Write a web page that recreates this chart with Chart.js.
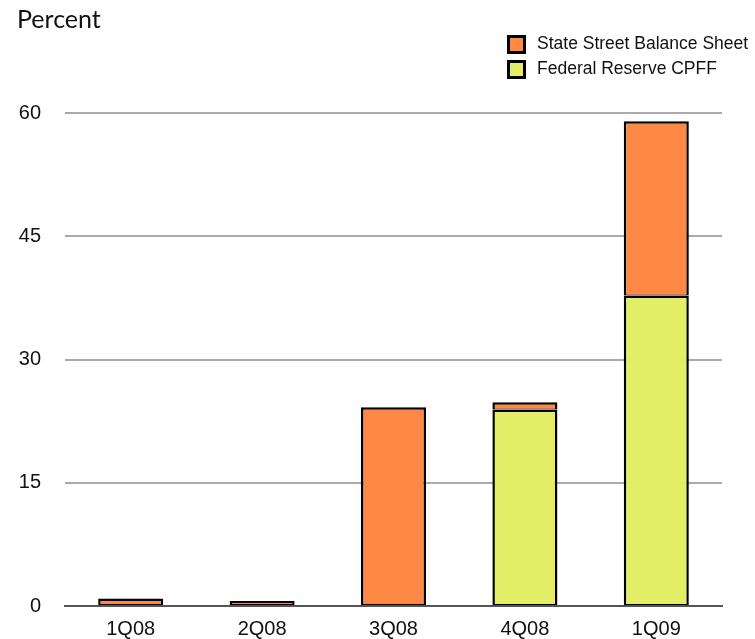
<!DOCTYPE html>
<html>
<head>
<meta charset="utf-8">
<title>State Street and CPFF</title>
<script src="https://cdn.jsdelivr.net/npm/chart.js@4"></script>
<style>
    html, body { margin: 0; padding: 0; background: #ffffff; }
    #wrap { width: 755px; height: 639px; position: relative; }
</style>
</head>
<body>
<div id="wrap"><canvas id="funding-chart" width="755" height="639"></canvas></div>
<script>
// Quarterly shares, percent
const quarters = ['1Q08', '2Q08', '3Q08', '4Q08', '1Q09'];
const stateStreetValues = [0.9, 0.6, 24.2, 0.9, 21.2];
const cpffValues = [null, null, null, 23.9, 37.8];
const yTicks = [0, 15, 30, 45, 60];

const ORANGE = '#ff8844';
const YELLOW = '#e2ee66';
const FONT = '"Liberation Sans", Arial, Helvetica, sans-serif';

// "Percent" caption and the two-row legend in the top right corner
const captionsPlugin = {
    id: 'captions',
    afterDraw(chart) {
        const ctx = chart.ctx;
        ctx.save();
        ctx.fillStyle = '#111111';
        ctx.font = '25px Lato, "Open Sans", sans-serif';
        ctx.textAlign = 'left';
        ctx.textBaseline = 'alphabetic';
        ctx.fillText('Percent', 17, 28);

        // legend rows listed top-down, stack order is bottom-up
        const items = chart.data.datasets.slice().reverse();
        ctx.font = '17.5px ' + FONT;
        ctx.textBaseline = 'middle';
        items.forEach((ds, i) => {
            const cy = 44.5 + i * 25;
            ctx.fillStyle = '#000000';
            ctx.fillRect(507, cy - 9.5, 19, 19);
            ctx.fillStyle = ds.backgroundColor;
            ctx.fillRect(510, cy - 6.5, 13, 13);
            ctx.fillStyle = '#111111';
            ctx.fillText(ds.label, 537, cy);
        });
        ctx.restore();
    }
};

const barStyle = {
    borderColor: '#000000',
    borderWidth: { top: 2.5, left: 2.5, right: 2.5, bottom: 1 },
    borderSkipped: false,
    barPercentage: 0.495,
    categoryPercentage: 1.0
};

const chart = new Chart(document.getElementById('funding-chart'), {
    type: 'bar',
    data: {
        labels: quarters,
        datasets: [
            Object.assign({
                label: 'Federal Reserve CPFF',
                data: cpffValues,
                backgroundColor: YELLOW
            }, barStyle),
            Object.assign({
                label: 'State Street Balance Sheet',
                data: stateStreetValues,
                backgroundColor: ORANGE
            }, barStyle)
        ]
    },
    options: {
        responsive: false,
        animation: false,
        events: [],
        layout: {
            padding: { top: 113, right: 33, bottom: 0, left: 0 }
        },
        scales: {
            x: {
                stacked: true,
                grid: { display: false },
                border: { display: true, color: '#555555', width: 2 },
                ticks: {
                    color: '#111111',
                    font: { family: FONT, size: 20 },
                    padding: 3
                },
                afterFit(scale) { scale.height = 33; }
            },
            y: {
                stacked: true,
                min: 0,
                max: 60,
                afterBuildTicks(scale) {
                    scale.ticks = yTicks.map(v => ({ value: v }));
                },
                grid: {
                    drawTicks: false,
                    lineWidth: 2,
                    color: (c) => (c.tick && c.tick.value === 0) ? 'rgba(0,0,0,0)' : '#aaaaaa'
                },
                border: { display: false },
                ticks: {
                    color: '#111111',
                    font: { family: FONT, size: 20 },
                    padding: 24
                },
                // the wide tick padding would otherwise also pad the chart vertically
                afterFit(scale) {
                    scale.width = 65;
                    scale.paddingTop = 0;
                    scale.paddingBottom = 0;
                }
            }
        },
        plugins: {
            legend: { display: false },
            tooltip: { enabled: false }
        }
    },
    plugins: [captionsPlugin]
});
</script>
</body>
</html>
